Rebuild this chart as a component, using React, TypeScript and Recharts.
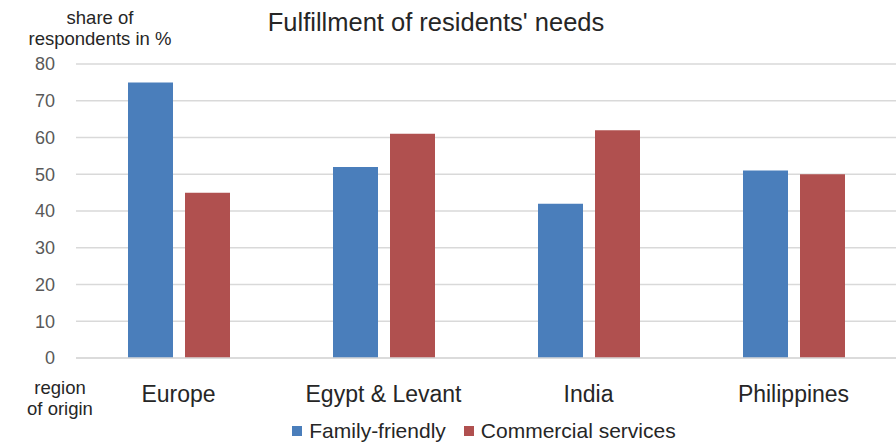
import { BarChart, Bar, XAxis, YAxis, CartesianGrid, Legend } from 'recharts';

const REGIONS = ['Europe', 'Egypt & Levant', 'India', 'Philippines'];
const FAMILY_FRIENDLY = [75, 52, 42, 51];
const COMMERCIAL_SERVICES = [45, 61, 62, 50];
const Y_TICKS = [0, 10, 20, 30, 40, 50, 60, 70, 80];

const SERIES = [
  { key: 'family', name: 'Family-friendly', color: '#4a7ebb' },
  { key: 'commercial', name: 'Commercial services', color: '#b0504f' },
];

const FONT = 'Liberation Sans, Arial, sans-serif';
const TEXT = '#262626';

const data = REGIONS.map((region, i) => ({
  region,
  family: FAMILY_FRIENDLY[i],
  commercial: COMMERCIAL_SERVICES[i],
}));

function RegionTick({ x, y, payload }: any) {
  return (
    <text x={x} y={y + 36} textAnchor="middle" fontSize={23} fill={TEXT} fontFamily={FONT}>
      {payload.value}
    </text>
  );
}

function LegendContent() {
  return (
    <div
      style={{
        display: 'flex',
        justifyContent: 'center',
        alignItems: 'center',
        height: 30,
        paddingLeft: 72,
        fontFamily: FONT,
        fontSize: 21,
        color: TEXT,
      }}
    >
      {SERIES.map((s, i) => (
        <span
          key={s.key}
          style={{ display: 'flex', alignItems: 'center', marginRight: i < SERIES.length - 1 ? 18 : 0 }}
        >
          <span style={{ width: 10, height: 10, background: s.color, marginRight: 7, display: 'inline-block' }} />
          {s.name}
        </span>
      ))}
    </div>
  );
}

export default function App() {
  return (
    <div style={{ position: 'absolute', left: 0, top: 0, width: 896, height: 445, background: '#fff' }}>
      <BarChart
        width={896}
        height={445}
        data={data}
        margin={{ top: 64, right: 0, bottom: 0, left: 0 }}
        barSize={45}
        barGap={12}
      >
        <CartesianGrid vertical={false} stroke="#d9d9d9" strokeWidth={1.5} />
        <XAxis
          dataKey="region"
          height={57}
          axisLine={{ stroke: '#d9d9d9', strokeWidth: 1.5 }}
          tickLine={false}
          tick={<RegionTick />}
          interval={0}
        />
        <YAxis
          width={76}
          domain={[0, 80]}
          ticks={Y_TICKS}
          axisLine={false}
          tickLine={false}
          tickMargin={15}
          tick={{ fontSize: 18, fill: '#595959', fontFamily: FONT }}
        />
        {SERIES.map((s) => (
          <Bar key={s.key} dataKey={s.key} name={s.name} fill={s.color} isAnimationActive={false} />
        ))}
        <Legend
          verticalAlign="bottom"
          content={<LegendContent />}
          wrapperStyle={{ position: 'absolute', top: 416, left: 0, width: 896, height: 30 }}
        />
        <text x={436} y={31} textAnchor="middle" fontSize={25.5} fill={TEXT} fontFamily={FONT}>
          Fulfillment of residents' needs
        </text>
        <text x={100} y={24} textAnchor="middle" fontSize={18.5} fill={TEXT} fontFamily={FONT}>
          share of
        </text>
        <text x={100} y={45} textAnchor="middle" fontSize={18.5} fill={TEXT} fontFamily={FONT}>
          respondents in %
        </text>
        <text x={60} y={394} textAnchor="middle" fontSize={18.5} fill={TEXT} fontFamily={FONT}>
          region
        </text>
        <text x={60} y={415} textAnchor="middle" fontSize={18.5} fill={TEXT} fontFamily={FONT}>
          of origin
        </text>
      </BarChart>
    </div>
  );
}
